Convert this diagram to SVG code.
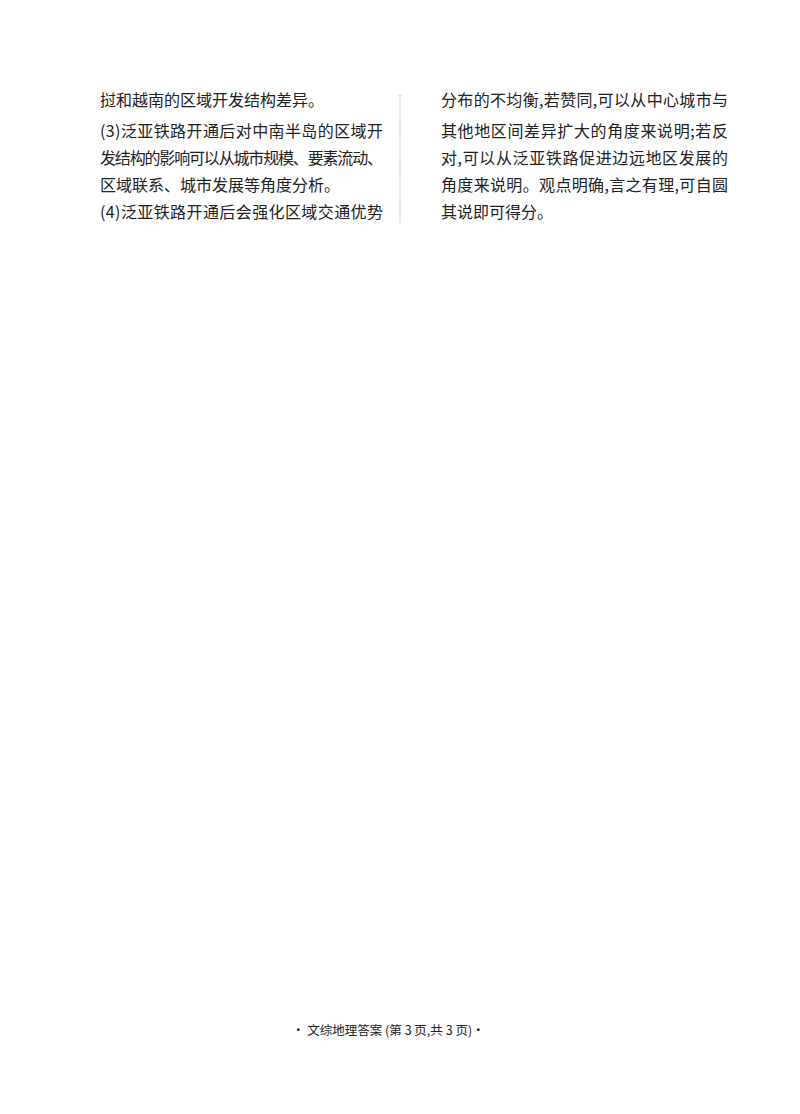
<svg xmlns="http://www.w3.org/2000/svg" width="800" height="1114" viewBox="0 0 800 1114">
<style>
.t{font-family:"Noto Sans CJK SC","Liberation Sans",sans-serif;font-size:16px;fill:#222;}
.f{font-family:"Noto Sans CJK SC","Liberation Sans",sans-serif;font-size:12.5px;fill:#222;}
</style>
<rect width="800" height="1114" fill="#fff"/>
<g id="left">
<text class="t" x="100" y="106">挝和越南的区域开发结构差异。</text>
<text class="t" x="100" y="137" textLength="283" lengthAdjust="spacing">(3)泛亚铁路开通后对中南半岛的区域开</text>
<text class="t" x="100" y="164" textLength="283" lengthAdjust="spacing">发结构的影响可以从城市规模、要素流动、</text>
<text class="t" x="100" y="191">区域联系、城市发展等角度分析。</text>
<text class="t" x="100" y="218" textLength="283" lengthAdjust="spacing">(4)泛亚铁路开通后会强化区域交通优势</text>
</g>
<line x1="400" y1="95" x2="400" y2="225" stroke="#999" stroke-width="1" stroke-dasharray="1,1.5"/>
<g id="right">
<text class="t" x="441" y="106" textLength="287" lengthAdjust="spacing">分布的不均衡,若赞同,可以从中心城市与</text>
<text class="t" x="441" y="137" textLength="287" lengthAdjust="spacing">其他地区间差异扩大的角度来说明;若反</text>
<text class="t" x="441" y="164" textLength="287" lengthAdjust="spacing">对,可以从泛亚铁路促进边远地区发展的</text>
<text class="t" x="441" y="191" textLength="287" lengthAdjust="spacing">角度来说明。观点明确,言之有理,可自圆</text>
<text class="t" x="441" y="218">其说即可得分。</text>
</g>
<g id="footer">
<text class="f" x="292" y="1035">•  文综地理答案  (第 3 页,共 3 页)•</text>
</g>
</svg>
